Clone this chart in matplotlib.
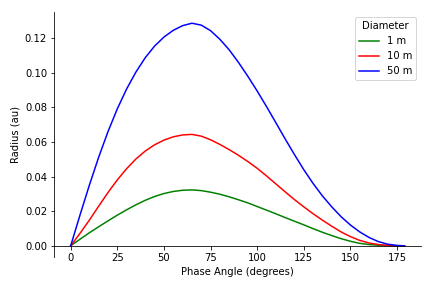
import numpy as np
import matplotlib
matplotlib.use("Agg")
import matplotlib.pyplot as plt

# phase angle (degrees), every 5 degrees
phase = [0, 5, 10, 15, 20, 25, 30, 35, 40, 45, 50, 55, 60, 65, 70, 75, 80, 85,
         90, 95, 100, 105, 110, 115, 120, 125, 130, 135, 140, 145, 150, 155,
         160, 165, 170, 175, 179]

# radius (au) for each diameter
r_1m = [0, .0038, .0075, .0110, .0144, .0177, .0208, .0237, .0263, .0285,
        .0302, .0314, .0321, .0323, .0319, .0310, .0298, .0283, .0266, .0248,
        .0227, .0206, .0185, .0163, .0142, .0121, .0099, .0078, .0059, .0041,
        .0026, .0014, .0007, .0003, .0001, 0, 0]
r_10m = [0, .0072, .0148, .0229, .0308, .0381, .0446, .0502, .0548, .0584,
         .0611, .0630, .0641, .0644, .0634, .0613, .0586, .0556, .0523, .0487,
         .0448, .0404, .0358, .0312, .0267, .0225, .0185, .0148, .0113, .0080,
         .0053, .0031, .0016, .0007, .0002, 0, 0]
r_50m = [0, .0178, .0350, .0512, .0660, .0792, .0907, .1005, .1088, .1155,
         .1207, .1246, .1273, .1287, .1276, .1244, .1194, .1133, .1060, .0980,
         .0895, .0805, .0712, .0618, .0527, .0440, .0360, .0288, .0225, .0168,
         .0120, .0080, .0048, .0024, .0009, .0002, 0]

labels = ["1 m", "10 m", "50 m"]
colors = ["green", "red", "blue"]

fig = plt.figure(figsize=(6, 4), dpi=72)
ax = fig.add_axes([0.125, 0.108, 0.850, 0.850])

for r, lab, c in zip([r_1m, r_10m, r_50m], labels, colors):
    ax.plot(phase, r, color=c, label=lab, lw=1.5)

ax.spines['top'].set_visible(False)
ax.spines['right'].set_visible(False)
ax.spines['bottom'].set_position(('data', 0))

ax.set_xlabel("Phase Angle (degrees)")
ax.set_ylabel("Radius (au)")
ax.legend(title="Diameter", loc="upper right")

fig.savefig("out.png", dpi=72)
